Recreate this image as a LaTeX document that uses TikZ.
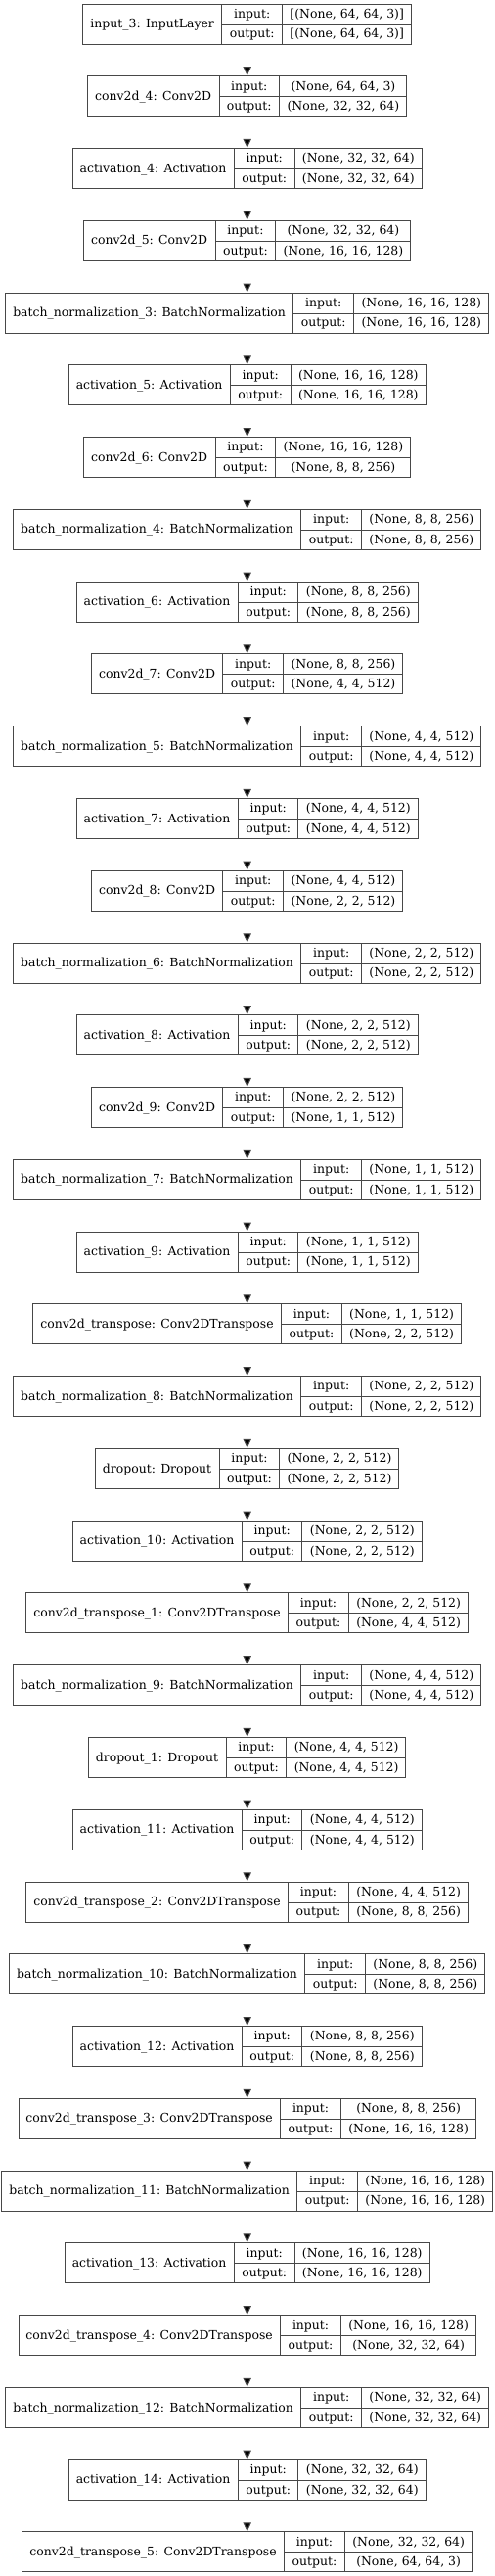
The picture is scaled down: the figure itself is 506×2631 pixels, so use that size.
\documentclass[tikz,border=0pt]{standalone}
\usepackage{fontspec}
\setmainfont{DejaVu Serif}
\usepackage{multirow}
\usepackage{colortbl}
\usepackage{tikz}
\usetikzlibrary{arrows.meta}

\setlength{\tabcolsep}{5.6pt}
\setlength{\arrayrulewidth}{0.75pt}
\arrayrulecolor{black!72}

% one keras layer: name, input shape, output shape
\newcommand{\layerbox}[3]{%
\begin{tabular}{c|c|c}
\multirow{2}{*}{#1} & input: & #2 \\ \cline{2-3}
 & output: & #3
\end{tabular}}

\tikzset{
 layer/.style={draw=black!72, line width=0.75pt, inner sep=0pt, fill=white,
   font=\fontsize{9.33}{15.375}\selectfont},
 flow/.style={draw=black!72, line width=0.75pt, -{Triangle[length=6.8pt,width=6.2pt,fill=black]}}
}

\begin{document}
\begin{tikzpicture}[x=0.75pt,y=0.75pt,yscale=-1,xscale=1]
\useasboundingbox (0,0) rectangle (506,2631);

%Layers: encoder
\node[layer] (l0) at (252.7,24.5) {\layerbox{input\_3: InputLayer}{[(None, 64, 64, 3)]}{[(None, 64, 64, 3)]}};
\node[layer] (l1) at (252.7,98.27) {\layerbox{conv2d\_4: Conv2D}{(None, 64, 64, 3)}{(None, 32, 32, 64)}};
\node[layer] (l2) at (252.7,172.04) {\layerbox{activation\_4: Activation}{(None, 32, 32, 64)}{(None, 32, 32, 64)}};
\node[layer] (l3) at (252.7,245.81) {\layerbox{conv2d\_5: Conv2D}{(None, 32, 32, 64)}{(None, 16, 16, 128)}};
\node[layer] (l4) at (252.7,319.58) {\layerbox{batch\_normalization\_3: BatchNormalization}{(None, 16, 16, 128)}{(None, 16, 16, 128)}};
\node[layer] (l5) at (252.7,393.35) {\layerbox{activation\_5: Activation}{(None, 16, 16, 128)}{(None, 16, 16, 128)}};
\node[layer] (l6) at (252.7,467.12) {\layerbox{conv2d\_6: Conv2D}{(None, 16, 16, 128)}{(None, 8, 8, 256)}};
\node[layer] (l7) at (252.7,540.89) {\layerbox{batch\_normalization\_4: BatchNormalization}{(None, 8, 8, 256)}{(None, 8, 8, 256)}};
\node[layer] (l8) at (252.7,614.66) {\layerbox{activation\_6: Activation}{(None, 8, 8, 256)}{(None, 8, 8, 256)}};
\node[layer] (l9) at (252.7,688.43) {\layerbox{conv2d\_7: Conv2D}{(None, 8, 8, 256)}{(None, 4, 4, 512)}};
\node[layer] (l10) at (252.7,762.2) {\layerbox{batch\_normalization\_5: BatchNormalization}{(None, 4, 4, 512)}{(None, 4, 4, 512)}};
\node[layer] (l11) at (252.7,835.97) {\layerbox{activation\_7: Activation}{(None, 4, 4, 512)}{(None, 4, 4, 512)}};
\node[layer] (l12) at (252.7,909.74) {\layerbox{conv2d\_8: Conv2D}{(None, 4, 4, 512)}{(None, 2, 2, 512)}};
\node[layer] (l13) at (252.7,983.51) {\layerbox{batch\_normalization\_6: BatchNormalization}{(None, 2, 2, 512)}{(None, 2, 2, 512)}};
\node[layer] (l14) at (252.7,1057.28) {\layerbox{activation\_8: Activation}{(None, 2, 2, 512)}{(None, 2, 2, 512)}};
\node[layer] (l15) at (252.7,1131.05) {\layerbox{conv2d\_9: Conv2D}{(None, 2, 2, 512)}{(None, 1, 1, 512)}};
\node[layer] (l16) at (252.7,1204.82) {\layerbox{batch\_normalization\_7: BatchNormalization}{(None, 1, 1, 512)}{(None, 1, 1, 512)}};
\node[layer] (l17) at (252.7,1278.59) {\layerbox{activation\_9: Activation}{(None, 1, 1, 512)}{(None, 1, 1, 512)}};

%Layers: decoder
\node[layer] (l18) at (252.7,1352.36) {\layerbox{conv2d\_transpose: Conv2DTranspose}{(None, 1, 1, 512)}{(None, 2, 2, 512)}};
\node[layer] (l19) at (252.7,1426.13) {\layerbox{batch\_normalization\_8: BatchNormalization}{(None, 2, 2, 512)}{(None, 2, 2, 512)}};
\node[layer] (l20) at (252.7,1499.9) {\layerbox{dropout: Dropout}{(None, 2, 2, 512)}{(None, 2, 2, 512)}};
\node[layer] (l21) at (252.7,1573.67) {\layerbox{activation\_10: Activation}{(None, 2, 2, 512)}{(None, 2, 2, 512)}};
\node[layer] (l22) at (252.7,1647.44) {\layerbox{conv2d\_transpose\_1: Conv2DTranspose}{(None, 2, 2, 512)}{(None, 4, 4, 512)}};
\node[layer] (l23) at (252.7,1721.21) {\layerbox{batch\_normalization\_9: BatchNormalization}{(None, 4, 4, 512)}{(None, 4, 4, 512)}};
\node[layer] (l24) at (252.7,1794.98) {\layerbox{dropout\_1: Dropout}{(None, 4, 4, 512)}{(None, 4, 4, 512)}};
\node[layer] (l25) at (252.7,1868.75) {\layerbox{activation\_11: Activation}{(None, 4, 4, 512)}{(None, 4, 4, 512)}};
\node[layer] (l26) at (252.7,1942.52) {\layerbox{conv2d\_transpose\_2: Conv2DTranspose}{(None, 4, 4, 512)}{(None, 8, 8, 256)}};
\node[layer] (l27) at (252.7,2016.29) {\layerbox{batch\_normalization\_10: BatchNormalization}{(None, 8, 8, 256)}{(None, 8, 8, 256)}};
\node[layer] (l28) at (252.7,2090.06) {\layerbox{activation\_12: Activation}{(None, 8, 8, 256)}{(None, 8, 8, 256)}};
\node[layer] (l29) at (252.7,2163.83) {\layerbox{conv2d\_transpose\_3: Conv2DTranspose}{(None, 8, 8, 256)}{(None, 16, 16, 128)}};
\node[layer] (l30) at (252.7,2237.6) {\layerbox{batch\_normalization\_11: BatchNormalization}{(None, 16, 16, 128)}{(None, 16, 16, 128)}};
\node[layer] (l31) at (252.7,2311.37) {\layerbox{activation\_13: Activation}{(None, 16, 16, 128)}{(None, 16, 16, 128)}};
\node[layer] (l32) at (252.7,2385.14) {\layerbox{conv2d\_transpose\_4: Conv2DTranspose}{(None, 16, 16, 128)}{(None, 32, 32, 64)}};
\node[layer] (l33) at (252.7,2458.91) {\layerbox{batch\_normalization\_12: BatchNormalization}{(None, 32, 32, 64)}{(None, 32, 32, 64)}};
\node[layer] (l34) at (252.7,2532.68) {\layerbox{activation\_14: Activation}{(None, 32, 32, 64)}{(None, 32, 32, 64)}};
\node[layer] (l35) at (252.7,2606.45) {\layerbox{conv2d\_transpose\_5: Conv2DTranspose}{(None, 32, 32, 64)}{(None, 64, 64, 3)}};

%Arrows between layers
\draw[flow] (l0) -- (l1);
\draw[flow] (l1) -- (l2);
\draw[flow] (l2) -- (l3);
\draw[flow] (l3) -- (l4);
\draw[flow] (l4) -- (l5);
\draw[flow] (l5) -- (l6);
\draw[flow] (l6) -- (l7);
\draw[flow] (l7) -- (l8);
\draw[flow] (l8) -- (l9);
\draw[flow] (l9) -- (l10);
\draw[flow] (l10) -- (l11);
\draw[flow] (l11) -- (l12);
\draw[flow] (l12) -- (l13);
\draw[flow] (l13) -- (l14);
\draw[flow] (l14) -- (l15);
\draw[flow] (l15) -- (l16);
\draw[flow] (l16) -- (l17);
\draw[flow] (l17) -- (l18);
\draw[flow] (l18) -- (l19);
\draw[flow] (l19) -- (l20);
\draw[flow] (l20) -- (l21);
\draw[flow] (l21) -- (l22);
\draw[flow] (l22) -- (l23);
\draw[flow] (l23) -- (l24);
\draw[flow] (l24) -- (l25);
\draw[flow] (l25) -- (l26);
\draw[flow] (l26) -- (l27);
\draw[flow] (l27) -- (l28);
\draw[flow] (l28) -- (l29);
\draw[flow] (l29) -- (l30);
\draw[flow] (l30) -- (l31);
\draw[flow] (l31) -- (l32);
\draw[flow] (l32) -- (l33);
\draw[flow] (l33) -- (l34);
\draw[flow] (l34) -- (l35);
\end{tikzpicture}
\end{document}
